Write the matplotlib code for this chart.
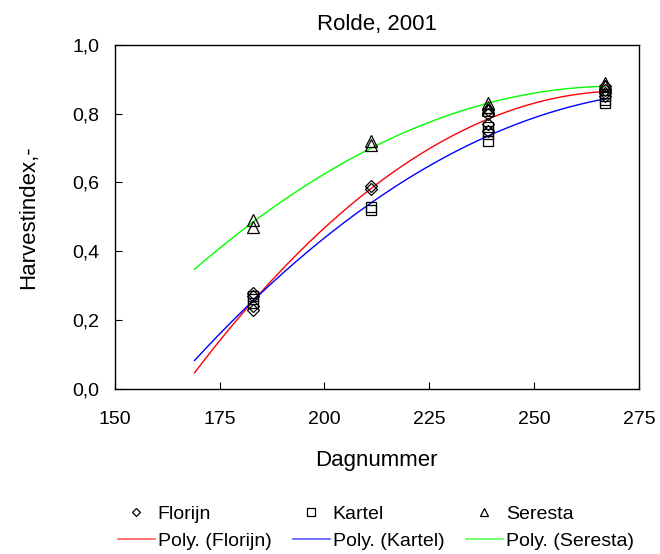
import numpy as np
import matplotlib
matplotlib.use('Agg')
import matplotlib.pyplot as plt
from matplotlib.lines import Line2D

plt.rcParams['font.family'] = ['Liberation Sans', 'DejaVu Sans']

# harvest days and measured harvest index per cultivar
florijn_x = [183, 183, 183, 183, 211, 211, 239, 239, 239, 239, 267, 267, 267, 267]
florijn_y = [0.23, 0.24, 0.27, 0.28, 0.58, 0.59, 0.75, 0.77, 0.80, 0.81, 0.85, 0.86, 0.87, 0.88]
kartel_x = [183, 183, 183, 211, 211, 239, 239, 239, 239, 267, 267, 267]
kartel_y = [0.25, 0.26, 0.27, 0.52, 0.53, 0.72, 0.74, 0.75, 0.76, 0.83, 0.84, 0.85]
seresta_x = [183, 183, 211, 211, 239, 239, 239, 267, 267]
seresta_y = [0.47, 0.49, 0.71, 0.72, 0.81, 0.82, 0.83, 0.88, 0.89]

names = ['Florijn', 'Kartel', 'Seresta']
markers = ['D', 's', '^']
msizes = [6, 7, 8]
line_colors = ['#ff0000', '#0000ff', '#00ff00']
trend_start = 169

fig = plt.figure(figsize=(6.6, 5.54), dpi=100)
ax = fig.add_axes([0.174, 0.298, 0.794, 0.621])

series = [(florijn_x, florijn_y), (kartel_x, kartel_y), (seresta_x, seresta_y)]
for (xs, ys), name, mk, ms, col in zip(series, names, markers, msizes, line_colors):
    # 2nd order trendline (like the spreadsheet's "Poly.")
    coef = np.polyfit(xs, ys, 2)
    xx = np.linspace(trend_start, max(xs), 200)
    ax.plot(xx, np.polyval(coef, xx), color=col, lw=1.0, zorder=2)
    ax.plot(xs, ys, linestyle='none', marker=mk, ms=ms, mfc='none', mec='black',
            mew=0.9, zorder=3)

ax.set_xlim(150, 275)
ax.set_ylim(0, 1.0)
ax.set_xticks([150, 175, 200, 225, 250, 275])
yt = np.arange(0, 1.01, 0.2)
ax.set_yticks(yt)
ax.set_yticklabels([('%.1f' % v).replace('.', ',') for v in yt])
ax.tick_params(direction='in', length=5, labelsize=14)
ax.tick_params(axis='x', pad=16)
ax.tick_params(axis='y', pad=11)
for sp in ax.spines.values():
    sp.set_linewidth(1.0)

ax.set_title('Rolde, 2001', fontsize=16, pad=11)
ax.set_xlabel('Dagnummer', fontsize=16, labelpad=16)
ax.set_ylabel('Harvestindex,-', fontsize=16, labelpad=24)

handles = []
for name, mk, col in zip(names, markers, line_colors):
    handles.append(Line2D([], [], linestyle='none', marker=mk, ms=6 if mk != 'D' else 4.5,
                          mfc='none', mec='black', mew=0.9, label=name))
    handles.append(Line2D([], [], color=col, lw=1.2, alpha=0.65, label='Poly. (%s)' % name))

fig.legend(handles=handles, loc='lower left', bbox_to_anchor=(118 / 660, 0.008), ncol=3,
           frameon=False, fontsize=14, handlelength=1.9, handletextpad=0.15,
           columnspacing=1.1, labelspacing=0.45, borderpad=0, borderaxespad=0)

fig.savefig('out.png', dpi=100)
